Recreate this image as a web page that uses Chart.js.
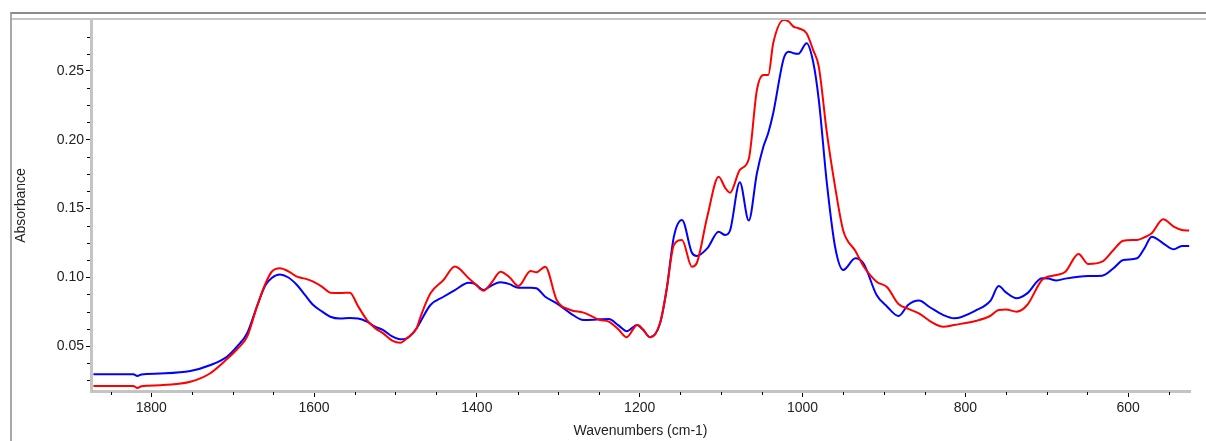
<!DOCTYPE html>
<html>
<head>
<meta charset="utf-8">
<script src="https://cdn.jsdelivr.net/npm/chart.js@4/dist/chart.umd.min.js"></script>
<style>
  html, body { margin: 0; padding: 0; background: #fff; overflow: hidden; }
  #wrap { position: relative; width: 1206px; height: 441px; }
  #frameOuter { position: absolute; left: 10px; top: 12px; right: 0; bottom: 0;
    border-top: 2px solid #8c8c8c; border-left: 2px solid #a8a8a8; }
  #frameInner { position: absolute; left: 12px; top: 18px; right: 0; height: 0;
    border-top: 2px solid #c6c6c6; }
  canvas { position: absolute; left: 0; top: 0; }
</style>
</head>
<body>
<div id="wrap">
  <div id="frameOuter"></div>
  <div id="frameInner"></div>
  <canvas id="spectrum" width="1206" height="441"></canvas>
</div>
<script>
// wavenumbers (cm-1)
let wavenumbers = [1871, 1844, 1822, 1817, 1812, 1789, 1752, 1728, 1707, 1694, 1682, 1670, 1660, 1652, 1642,
    1632, 1621, 1611, 1601, 1590, 1580, 1568, 1556, 1546, 1535, 1525, 1515, 1504, 1494, 1486,
    1474, 1470, 1457, 1441, 1427, 1410, 1402, 1392, 1382, 1371, 1360, 1349, 1334, 1327, 1316,
    1302, 1285, 1269, 1249, 1238, 1226, 1216, 1203, 1196, 1187, 1175, 1167, 1158, 1148, 1136,
    1130, 1117, 1103, 1095, 1089, 1077, 1066, 1056, 1048, 1042, 1036, 1023, 1017, 1011, 1005,
    995, 987, 980, 970, 960, 950, 935, 925, 909, 896, 882, 870, 857, 843, 827,
    814, 786, 769, 759, 750, 737, 724, 706, 698, 688, 677, 661, 649, 632, 618,
    606, 589, 580, 571, 557, 544, 534, 525];

let blueAbs = [0.0294, 0.0295, 0.0294, 0.0282, 0.0293, 0.0300, 0.0318, 0.0360, 0.0422, 0.0500, 0.0595, 0.0790, 0.0940, 0.0995, 0.1020,
    0.1000, 0.0944, 0.0870, 0.0798, 0.0750, 0.0713, 0.0700, 0.0703, 0.0700, 0.0677, 0.0640, 0.0616, 0.0570, 0.0549, 0.0556,
    0.0629, 0.0670, 0.0798, 0.0858, 0.0907, 0.0960, 0.0950, 0.0907, 0.0940, 0.0963, 0.0950, 0.0924, 0.0924, 0.0920, 0.0858,
    0.0810, 0.0738, 0.0689, 0.0694, 0.0696, 0.0650, 0.0608, 0.0653, 0.0620, 0.0563, 0.0665, 0.0907, 0.1295, 0.1416, 0.1180,
    0.1155, 0.1210, 0.1331, 0.1307, 0.1340, 0.1690, 0.1412, 0.1756, 0.1950, 0.2050, 0.2192, 0.2592, 0.2640, 0.2629, 0.2625,
    0.2701, 0.2568, 0.2290, 0.1680, 0.1222, 0.1053, 0.1138, 0.1100, 0.0871, 0.0786, 0.0718, 0.0800, 0.0830, 0.0780, 0.0725,
    0.0701, 0.0762, 0.0830, 0.0936, 0.0890, 0.0847, 0.0883, 0.0993, 0.0990, 0.0977, 0.0990, 0.1004, 0.1009, 0.1011, 0.1065,
    0.1125, 0.1138, 0.1210, 0.1295, 0.1247, 0.1203, 0.1227, 0.1227];

let redAbs = [0.0209, 0.0210, 0.0210, 0.0195, 0.0208, 0.0215, 0.0240, 0.0300, 0.0405, 0.0480, 0.0570, 0.0790, 0.0950, 0.1040, 0.1065,
    0.1045, 0.1004, 0.0990, 0.0968, 0.0930, 0.0888, 0.0885, 0.0888, 0.0790, 0.0689, 0.0630, 0.0592, 0.0540, 0.0524, 0.0556,
    0.0629, 0.0700, 0.0883, 0.0980, 0.1078, 0.0993, 0.0950, 0.0902, 0.0960, 0.1040, 0.1000, 0.0936, 0.1045, 0.1036, 0.1077,
    0.0835, 0.0762, 0.0743, 0.0689, 0.0677, 0.0620, 0.0564, 0.0653, 0.0620, 0.0563, 0.0665, 0.0907, 0.1235, 0.1271, 0.1077,
    0.1102, 0.1440, 0.1731, 0.1650, 0.1615, 0.1780, 0.1860, 0.2362, 0.2471, 0.2471, 0.2701, 0.2871, 0.2859, 0.2822, 0.2810,
    0.2774, 0.2653, 0.2531, 0.2047, 0.1659, 0.1340, 0.1190, 0.1080, 0.0968, 0.0927, 0.0805, 0.0770, 0.0738, 0.0680, 0.0640,
    0.0653, 0.0684, 0.0720, 0.0762, 0.0765, 0.0750, 0.0798, 0.0980, 0.1005, 0.1016, 0.1040, 0.1169, 0.1096, 0.1113, 0.1198,
    0.1266, 0.1271, 0.1290, 0.1320, 0.1421, 0.1368, 0.1344, 0.1339];

let xTickValues = [1800, 1600, 1400, 1200, 1000, 800, 600];
let yTickValues = [0.05, 0.10, 0.15, 0.20, 0.25];

function toPoints(values) {
    return wavenumbers.map((w, i) => ({ x: w, y: values[i] }));
}

// small minor tick marks between the labelled ones
const minorTicks = {
    id: "minorTicks",
    afterDraw(chart) {
        let ctx = chart.ctx;
        let xs = chart.scales.x, ys = chart.scales.y;
        ctx.save();
        ctx.strokeStyle = "#000";
        ctx.lineWidth = 1;
        for (let v = 550; v <= 1850; v += 50) {
            if (v % 200 === 0) continue;
            let px = Math.round(xs.getPixelForValue(v)) + 0.5;
            ctx.beginPath();
            ctx.moveTo(px, ys.bottom + 1);
            ctx.lineTo(px, ys.bottom + 4);
            ctx.stroke();
        }
        for (let k = 2; k <= 22; k++) {
            if (k % 4 === 0) continue;
            let v = k * 0.0125;
            let py = Math.round(ys.getPixelForValue(v)) + 0.5;
            ctx.beginPath();
            ctx.moveTo(xs.left - 4, py);
            ctx.lineTo(xs.left - 1, py);
            ctx.stroke();
        }
        ctx.restore();
    }
};

const fontFamily = "'Liberation Sans', Arial, sans-serif";

new Chart(document.getElementById("spectrum"), {
    type: "line",
    data: {
        datasets: [{
            label: "red",
            data: toPoints(redAbs),
            borderColor: "#ff0000",
            borderWidth: 2,
            pointRadius: 0,
            cubicInterpolationMode: "monotone",
            fill: false
        }, {
            label: "blue",
            data: toPoints(blueAbs),
            borderColor: "#0000ff",
            borderWidth: 2,
            pointRadius: 0,
            cubicInterpolationMode: "monotone",
            fill: false
        }]
    },
    options: {
        responsive: false,
        animation: false,
        events: [],
        layout: { padding: { left: 0, top: 20, right: 16, bottom: 0 } },
        plugins: {
            legend: { display: false },
            tooltip: { enabled: false }
        },
        scales: {
            x: {
                type: "linear",
                reverse: true,
                min: 524,
                max: 1874,
                afterBuildTicks: scale => { scale.ticks = xTickValues.map(v => ({ value: v })); },
                afterFit: scale => { scale.height = 50; },
                ticks: {
                    color: "#222",
                    padding: 3,
                    maxRotation: 0,
                    font: { family: fontFamily, size: 14 },
                    callback: v => String(v)
                },
                grid: { drawOnChartArea: false, tickLength: 6, color: "#000", tickWidth: 1 },
                border: { color: "#c4c4c4", width: 3 },
                title: {
                    display: true,
                    text: "Wavenumbers (cm-1)",
                    color: "#222",
                    font: { family: fontFamily, size: 14 },
                    padding: { top: 0, bottom: 1 }
                }
            },
            y: {
                min: 0.0173,
                max: 0.287,
                afterBuildTicks: scale => { scale.ticks = yTickValues.map(v => ({ value: v })); },
                afterFit: scale => { scale.width = 91; },
                ticks: {
                    color: "#222",
                    padding: 2,
                    font: { family: fontFamily, size: 14 },
                    callback: v => v.toFixed(2)
                },
                grid: { drawOnChartArea: false, tickLength: 5, color: "#000", tickWidth: 1 },
                border: { color: "#c4c4c4", width: 3 },
                title: {
                    display: true,
                    text: "Absorbance",
                    color: "#222",
                    font: { family: fontFamily, size: 14 },
                    padding: { top: 13, bottom: 0 }
                }
            }
        }
    },
    plugins: [minorTicks]
});
</script>
</body>
</html>
